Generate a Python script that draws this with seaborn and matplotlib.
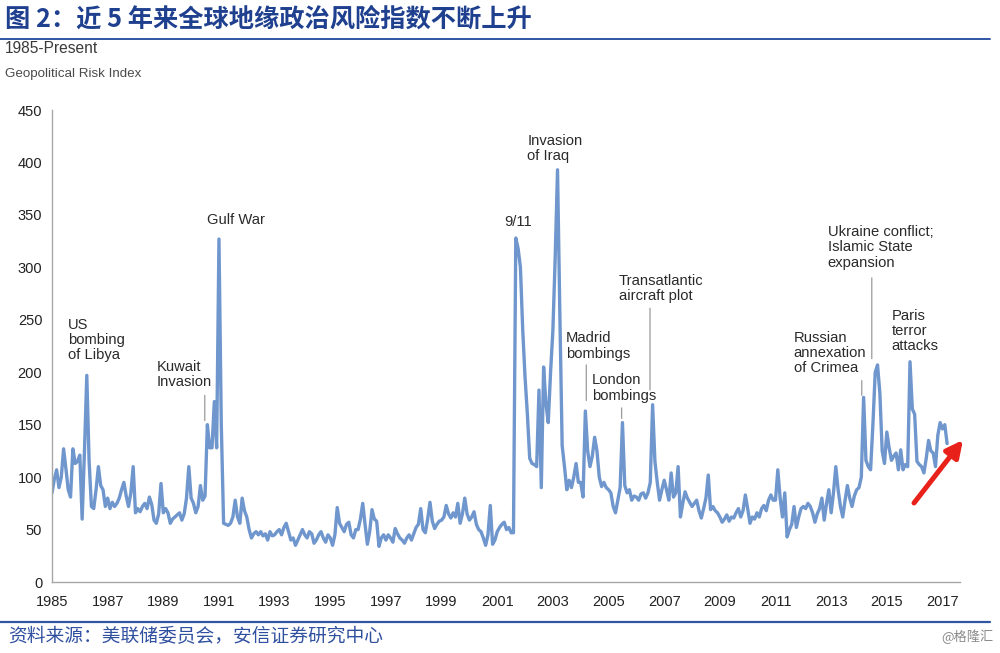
import matplotlib
matplotlib.use("Agg")
import matplotlib.pyplot as plt
import numpy as np
import pandas as pd
import seaborn as sns
from matplotlib.lines import Line2D

# ---------------- data (monthly Geopolitical Risk Index) ----------------
gpr_1985 = [85, 98, 107, 90, 100, 127, 108, 88, 81, 127, 113, 115]
gpr_1986 = [121, 60, 125, 197, 115, 72, 70, 88, 110, 92, 88, 72]
gpr_1987 = [80, 70, 76, 72, 75, 80, 88, 95, 82, 72, 85, 110]
gpr_1988 = [66, 70, 67, 72, 75, 70, 81, 74, 59, 56, 65, 94]
gpr_1989 = [66, 70, 66, 56, 60, 62, 64, 66, 59, 65, 80, 110]
gpr_1990 = [80, 75, 66, 72, 92, 78, 82, 150, 128, 128, 172, 128]
gpr_1991 = [327, 150, 56, 55, 54, 56, 62, 78, 62, 56, 80, 68]
gpr_1992 = [62, 50, 42, 46, 48, 45, 48, 44, 46, 40, 48, 44]
gpr_1993 = [45, 48, 50, 45, 52, 56, 48, 40, 42, 35, 40, 45]
gpr_1994 = [50, 45, 42, 48, 46, 37, 40, 45, 48, 42, 38, 45]
gpr_1995 = [42, 35, 45, 71, 56, 52, 48, 55, 57, 45, 42, 50]
gpr_1996 = [50, 60, 75, 55, 36, 48, 69, 60, 58, 34, 42, 45]
gpr_1997 = [40, 45, 42, 38, 51, 46, 42, 40, 37, 42, 45, 40]
gpr_1998 = [46, 52, 55, 70, 50, 47, 60, 76, 58, 51, 55, 58]
gpr_1999 = [59, 62, 73, 65, 61, 66, 62, 75, 56, 65, 80, 65]
gpr_2000 = [59, 62, 67, 55, 50, 48, 42, 35, 45, 73, 36, 40]
gpr_2001 = [48, 52, 55, 57, 50, 52, 47, 47, 328, 318, 300, 240]
gpr_2002 = [195, 160, 118, 113, 112, 110, 183, 90, 205, 170, 152, 200]
gpr_2003 = [240, 310, 393, 256, 130, 110, 88, 97, 90, 100, 113, 95]
gpr_2004 = [95, 81, 163, 125, 110, 120, 138, 125, 100, 91, 95, 90]
gpr_2005 = [88, 85, 72, 66, 78, 90, 152, 92, 85, 88, 78, 82]
gpr_2006 = [81, 78, 84, 85, 80, 85, 95, 169, 115, 95, 78, 88]
gpr_2007 = [97, 88, 78, 104, 81, 85, 110, 62, 75, 86, 80, 76]
gpr_2008 = [72, 75, 78, 68, 61, 70, 80, 102, 69, 72, 68, 66]
gpr_2009 = [62, 57, 60, 64, 58, 62, 61, 66, 70, 62, 68, 83]
gpr_2010 = [70, 56, 62, 60, 66, 62, 70, 73, 68, 78, 83, 78]
gpr_2011 = [78, 107, 80, 62, 85, 43, 50, 55, 72, 52, 62, 70]
gpr_2012 = [72, 70, 75, 72, 66, 57, 65, 70, 80, 59, 75, 88]
gpr_2013 = [66, 85, 110, 88, 72, 62, 78, 92, 80, 72, 82, 88]
gpr_2014 = [90, 100, 176, 116, 110, 107, 150, 200, 207, 180, 125, 113]
gpr_2015 = [143, 128, 116, 120, 123, 107, 126, 107, 112, 110, 210, 165]
gpr_2016 = [160, 115, 112, 110, 104, 118, 135, 125, 123, 110, 140, 152]
gpr_2017 = [146, 150, 132]

yearly = [gpr_1985, gpr_1986, gpr_1987, gpr_1988, gpr_1989, gpr_1990, gpr_1991,
          gpr_1992, gpr_1993, gpr_1994, gpr_1995, gpr_1996, gpr_1997, gpr_1998,
          gpr_1999, gpr_2000, gpr_2001, gpr_2002, gpr_2003, gpr_2004, gpr_2005,
          gpr_2006, gpr_2007, gpr_2008, gpr_2009, gpr_2010, gpr_2011, gpr_2012,
          gpr_2013, gpr_2014, gpr_2015, gpr_2016, gpr_2017]

x_ticks = list(range(1985, 2018, 2))
y_ticks = list(range(0, 451, 50))

title_text = "图 2：近 5 年来全球地缘政治风险指数不断上升"
subtitle_text = "1985-Present"
ylabel_text = "Geopolitical Risk Index"
source_text = "资料来源：美联储委员会，安信证券研究中心"
watermark_text = "@格隆汇"

event_labels = ["US\nbombing\nof Libya", "Kuwait\nInvasion", "Gulf War", "9/11",
                "Invasion\nof Iraq", "Madrid\nbombings", "London\nbombings",
                "Transatlantic\naircraft plot", "Russian\nannexation\nof Crimea",
                "Ukraine conflict;\nIslamic State\nexpansion", "Paris\nterror\nattacks"]

# ---------------- build frame ----------------
values = [v for yr in yearly for v in yr]
dates = pd.date_range("1985-01-01", periods=len(values), freq="MS")
df = pd.DataFrame({"year": dates.year + (dates.month - 1) / 12.0, "gpr": values})

# ---------------- styling ----------------
sns.set_style("white")
plt.rcParams["font.family"] = ["Liberation Sans", "DejaVu Sans"]
CJK = ["Noto Sans CJK SC", "DejaVu Sans"]

fig = plt.figure(figsize=(10, 6.53), dpi=100)
ax = fig.add_axes([0.052, 0.1087, 0.908, 0.7228])

line_color = "#6f96cd"
sns.lineplot(data=df, x="year", y="gpr", ax=ax, color=line_color, linewidth=2.4)

ax.set_xlim(1985, 2017.63)
ax.set_ylim(0, 450)
ax.set_xticks(x_ticks)
ax.set_xticklabels([str(t) for t in x_ticks])
ax.set_yticks(y_ticks)
ax.set_xlabel("")
ax.set_ylabel("")
for s in ["top", "right"]:
    ax.spines[s].set_visible(False)
for s in ["left", "bottom"]:
    ax.spines[s].set_color("#a6a6a6")
    ax.spines[s].set_linewidth(1.0)
ax.tick_params(axis="x", length=5, width=0.9, color="#a6a6a6", labelsize=10.5,
               labelcolor="#222222", pad=4, direction="out")
ax.tick_params(axis="y", length=4, width=0.9, color="#a6a6a6", labelsize=10.5,
               labelcolor="#222222", pad=3, direction="out")
ax.grid(False)

# ---------------- event annotations ----------------
txt_kw = dict(fontsize=10.6, color="#2a2a2a", linespacing=1.1, va="center")
label_pos = [(1985.57, 231, "left"), (1988.77, 198, "left"), (1991.6, 345, "center"),
             (2001.76, 343, "center"), (2002.08, 413, "left"), (2003.48, 225, "left"),
             (2004.41, 185, "left"), (2005.38, 280, "left"), (2011.66, 218, "left"),
             (2012.88, 319, "left"), (2015.18, 239, "left")]
for lab, (x, y, ha) in zip(event_labels, label_pos):
    ax.text(x, y, lab, ha=ha, **txt_kw)

leaders = [(1990.49, 178, 154), (2004.2, 207, 173), (2005.47, 166, 156),
           (2006.49, 261, 183), (2014.1, 192, 178), (2014.46, 290, 213)]
for x, y0, y1 in leaders:
    ax.annotate("", xy=(x, y1), xytext=(x, y0),
                arrowprops=dict(arrowstyle="-", color="#9a9a9a", lw=0.9,
                                shrinkA=0, shrinkB=0))

# ---------------- header / footer ----------------
title_blue = "#1f3f8f"
fig.text(0.005, 1 - 19 / 653, title_text, family=CJK, fontsize=18.2,
         fontweight="bold", color=title_blue, va="center", ha="left")
fig.add_artist(Line2D([0.0, 0.99], [1 - 38.5 / 653] * 2, color="#2f55a4", lw=1.4))
fig.text(0.005, 1 - 48.5 / 653, subtitle_text, fontsize=11.2, color="#3a3a3a",
         va="center", ha="left")
fig.text(0.005, 1 - 74 / 653, ylabel_text, fontsize=9.6, color="#4a4a4a",
         va="center", ha="left")

fig.add_artist(Line2D([0.0, 0.99], [1 - 622 / 653] * 2, color="#2f55a4", lw=1.6))
fig.text(0.008, 1 - 637 / 653, source_text, family=CJK, fontsize=13.5,
         style="italic", color="#2f4f9f", va="center", ha="left")
fig.text(0.993, 1 - 637 / 653, watermark_text, family=CJK, fontsize=9.5,
         color="#8a8a8a", va="center", ha="right")

# red arrow
ax.annotate("", xy=(0.963, 1 - 440 / 653), xytext=(0.914, 1 - 503 / 653),
            xycoords="figure fraction", textcoords="figure fraction",
            arrowprops=dict(arrowstyle="-|>,head_length=1.0,head_width=0.5",
                            color="#e8211b", lw=3.6, shrinkA=0, shrinkB=0),
            annotation_clip=False)

fig.savefig("out.png", dpi=100)
